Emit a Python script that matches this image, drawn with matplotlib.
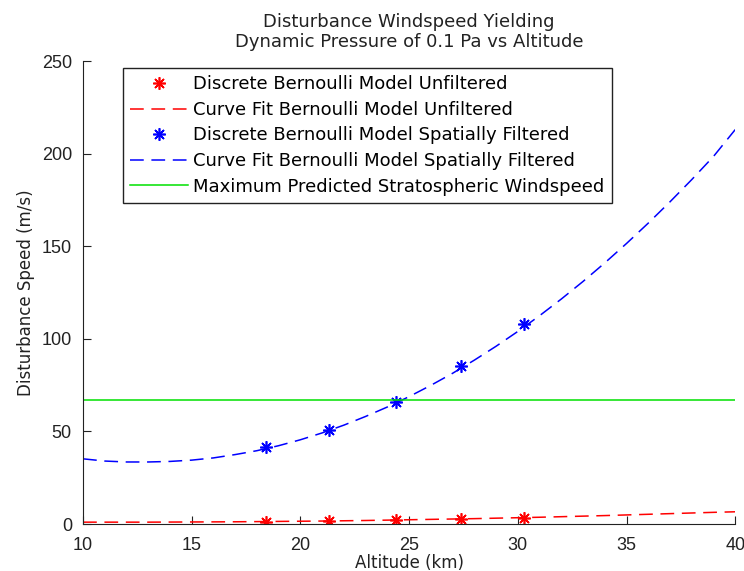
import numpy as np
import matplotlib.pyplot as plt

plt.rcParams['font.family'] = ['DejaVu Sans']

# discrete model points (altitude km, speed m/s)
alt_pts = [18.4, 21.3, 24.4, 27.4, 30.3]
unfilt_pts = [1.2, 1.7, 2.2, 2.8, 3.5]
filt_pts = [41.5, 50.5, 66.0, 85.5, 108.0]

# curve fits
alt_fit = [10, 11, 12, 13, 14, 15, 16, 17, 18, 19, 20, 21, 22, 23, 24, 25,
           26, 27, 28, 29, 30, 31, 32, 33, 34, 35, 36, 37, 38, 39, 40]
filt_fit = [35.2, 34.0, 33.5, 33.5, 33.8, 34.5, 35.7, 37.5, 39.6, 42.3, 45.5,
            49.2, 53.4, 58.1, 63.2, 68.8, 74.9, 81.4, 88.5, 96.0, 104.0, 112.5,
            121.5, 131.0, 141.0, 151.5, 162.5, 174.0, 186.0, 198.5, 213.0]
unfilt_fit = [1.0, 1.0, 1.0, 1.0, 1.05, 1.1, 1.15, 1.2, 1.3, 1.4, 1.5, 1.6,
              1.75, 1.9, 2.1, 2.3, 2.5, 2.7, 2.9, 3.15, 3.4, 3.65, 3.95, 4.25,
              4.55, 4.9, 5.25, 5.6, 5.95, 6.3, 6.6]

max_wind = 67.0

fig = plt.figure(figsize=(7.44, 5.71), dpi=100)
ax = fig.add_axes([0.1116, 0.0823, 0.8766, 0.8107])

star = (8, 2, 0)
ax.plot(alt_pts, unfilt_pts, linestyle='none', marker=star, color='#ff0000',
        markersize=9, markeredgewidth=1.2, label='Discrete Bernoulli Model Unfiltered')
ax.plot(alt_fit, unfilt_fit, color='#ff0000', lw=1.1, dashes=(9, 5),
        label='Curve Fit Bernoulli Model Unfiltered')
ax.plot(alt_pts, filt_pts, linestyle='none', marker=star, color='#0000ff',
        markersize=9, markeredgewidth=1.2, label='Discrete Bernoulli Model Spatially Filtered')
ax.plot(alt_fit, filt_fit, color='#0000ff', lw=1.1, dashes=(9, 5),
        label='Curve Fit Bernoulli Model Spatially Filtered')
ax.axhline(max_wind, color='#00e000', lw=1.1,
           label='Maximum Predicted Stratospheric Windspeed')

ax.set_xlim(10, 40)
ax.set_ylim(0, 250)
ax.set_xticks(range(10, 41, 5))
ax.set_yticks(range(0, 251, 50))
ax.spines['top'].set_visible(False)
ax.spines['right'].set_visible(False)
ax.tick_params(direction='in', length=6, colors='#222222')
ax.tick_params(axis='x', pad=9)
ax.tick_params(axis='y', pad=8)
for lab in ax.get_xticklabels() + ax.get_yticklabels():
    lab.set_family('Liberation Sans')
    lab.set_fontsize(13)
for s in ('left', 'bottom'):
    ax.spines[s].set_color('#222222')

ax.set_title('Disturbance Windspeed Yielding\nDynamic Pressure of 0.1 Pa vs Altitude',
             fontsize=13, pad=10, color='#222222', linespacing=1.15)
ax.set_xlabel('Altitude (km)', fontsize=12, labelpad=0, color='#222222')
ax.set_ylabel('Disturbance Speed (m/s)', fontsize=12, labelpad=5, color='#222222')

leg = ax.legend(loc='upper left', bbox_to_anchor=(0.061, 0.985), fontsize=13,
                handlelength=3.2, fancybox=False, framealpha=1, edgecolor='#222222',
                borderaxespad=0, labelspacing=0.42, handletextpad=0.3,
                borderpad=0.4)
leg.get_frame().set_linewidth(1.0)

fig.savefig('out.png', dpi=100)
